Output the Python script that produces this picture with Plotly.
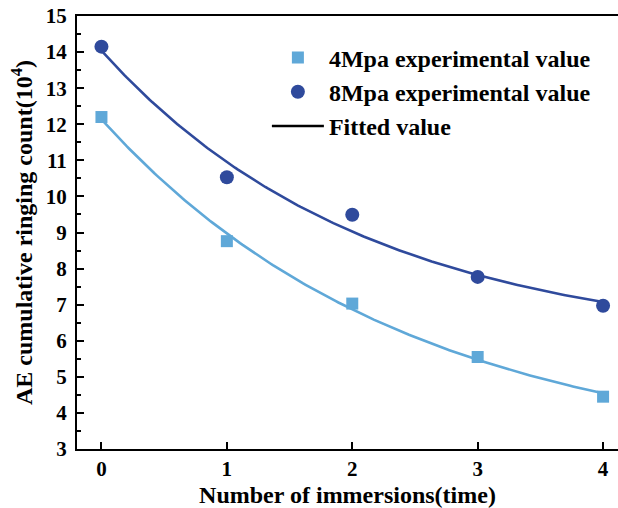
import numpy as np
import plotly.graph_objects as go

# Measured data
immersions = [0, 1, 2, 3, 4]
count_4mpa = [12.2, 8.76, 7.03, 5.55, 4.45]
count_8mpa = [14.15, 10.53, 9.49, 7.77, 6.97]

light_blue = "#5FA8D8"
dark_blue = "#2F4A9C"
font_family = "Liberation Serif"


def fit_decay(x, y):
    """Least-squares fit of y = y0 + A * exp(-x / t), scanning t."""
    x = np.asarray(x, float)
    y = np.asarray(y, float)
    best = None
    for t in np.linspace(0.3, 10.0, 2000):
        basis = np.column_stack([np.ones_like(x), np.exp(-x / t)])
        coef, *_ = np.linalg.lstsq(basis, y, rcond=None)
        err = np.sum((basis @ coef - y) ** 2)
        if best is None or err < best[0]:
            best = (err, coef[0], coef[1], t)
    _, y0, a, t = best
    return lambda xs: y0 + a * np.exp(-xs / t)


xs = np.linspace(0, 4, 200)
fit4 = fit_decay(immersions, count_4mpa)
fit8 = fit_decay(immersions, count_8mpa)

fig = go.Figure()
fig.add_trace(go.Scatter(x=xs, y=fit4(xs), mode="lines",
                         line=dict(color=light_blue, width=2.6),
                         showlegend=False, hoverinfo="skip"))
fig.add_trace(go.Scatter(x=xs, y=fit8(xs), mode="lines",
                         line=dict(color=dark_blue, width=2.6),
                         showlegend=False, hoverinfo="skip"))
fig.add_trace(go.Scatter(x=immersions, y=count_4mpa, mode="markers",
                         name="4Mpa experimental value",
                         marker=dict(symbol="square", size=12, color=light_blue)))
fig.add_trace(go.Scatter(x=immersions, y=count_8mpa, mode="markers",
                         name="8Mpa experimental value",
                         marker=dict(symbol="circle", size=14, color=dark_blue)))
fig.add_trace(go.Scatter(x=[None], y=[None], mode="lines",
                         name="Fitted value",
                         line=dict(color="black", width=2.6)))

tick_font = dict(size=21, family=font_family, color="black", weight="bold")
title_font = dict(size=24, family=font_family, color="black", weight="bold")

fig.update_layout(
    width=618, height=508,
    margin=dict(l=77, r=0, t=16, b=59),
    paper_bgcolor="white", plot_bgcolor="white",
    font=dict(family=font_family, color="black", size=20, weight="bold"),
    legend=dict(x=0.351, y=0.955, xanchor="left", yanchor="top",
                bgcolor="rgba(0,0,0,0)",
                font=dict(size=24, family=font_family, weight="bold"),
                itemwidth=52, tracegroupgap=0),
    xaxis=dict(
        range=[-0.195, 4.119], tickvals=[0, 1, 2, 3, 4],
        showline=True, linecolor="black", linewidth=2, mirror=True,
        ticks="inside", ticklen=7, tickwidth=2, tickcolor="black",
        showgrid=False, zeroline=False,
        tickfont=tick_font,
        title=dict(text="Number of immersions(time)", standoff=6, font=title_font),
    ),
    yaxis=dict(
        range=[3, 15], dtick=1,
        showline=True, linecolor="black", linewidth=2,
        ticks="inside", ticklen=7, tickwidth=2, tickcolor="black",
        minor=dict(dtick=0.5, ticks="inside", ticklen=4, tickwidth=1.5, tickcolor="black"),
        showgrid=False, zeroline=False,
        tickfont=tick_font, ticklabelstandoff=4,
        title=dict(text="AE cumulative ringing count(10<sup>4</sup>)", standoff=6,
                   font=title_font),
    ),
)

fig.write_html("out.html")
